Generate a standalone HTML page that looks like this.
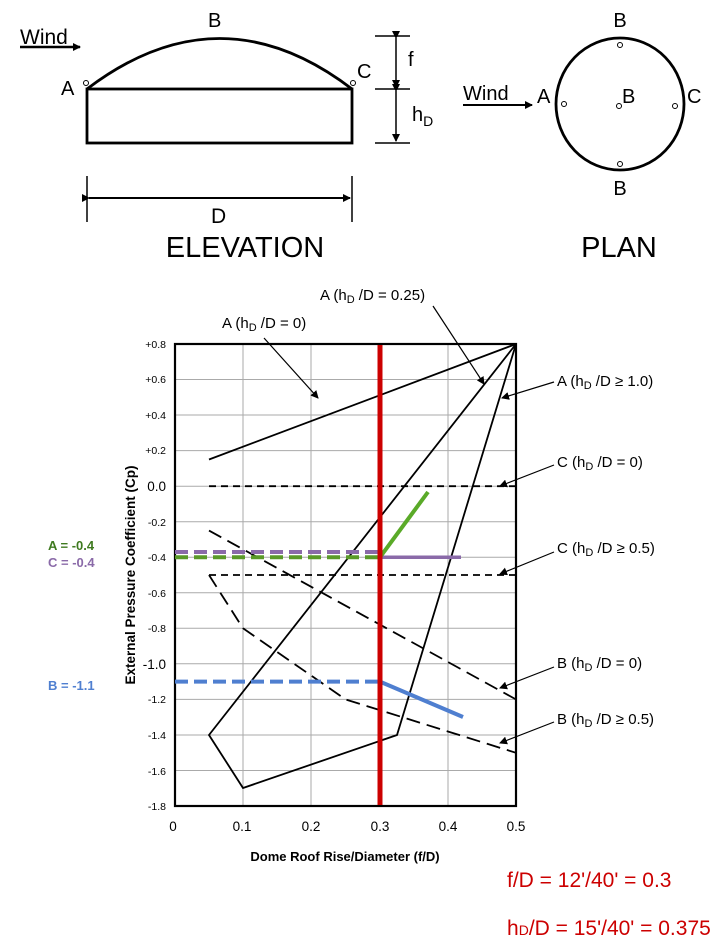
<!DOCTYPE html>
<html><head><meta charset="utf-8"><style>
body{margin:0;background:#fff;}
svg{display:block;font-family:"Liberation Sans",sans-serif;}
</style></head><body>
<svg width="720" height="941" viewBox="0 0 720 941" xmlns="http://www.w3.org/2000/svg">
<defs>
<marker id="ah" markerWidth="8" markerHeight="8" refX="7" refY="4" orient="auto" markerUnits="userSpaceOnUse"><path d="M0,0 L8,4 L0,8 z" fill="#000"/></marker>
</defs>
<!-- Elevation -->
<text x="20" y="44" font-size="21">Wind</text>
<line x1="20" y1="47" x2="80" y2="47" stroke="#000" stroke-width="2.5" marker-end="url(#ah)"/>
<path d="M87,89 Q220,-12 352,89" fill="none" stroke="#000" stroke-width="2.8"/>
<rect x="87" y="89" width="265" height="54" fill="none" stroke="#000" stroke-width="2.8"/>
<circle cx="86" cy="83" r="2.5" fill="none" stroke="#000"/>
<circle cx="353" cy="83" r="2.5" fill="none" stroke="#000"/>
<text x="61" y="95" font-size="20">A</text>
<text x="208" y="27" font-size="20">B</text>
<text x="357" y="78" font-size="20">C</text>
<line x1="375" y1="36" x2="410" y2="36" stroke="#000" stroke-width="1.5"/>
<line x1="375" y1="89" x2="410" y2="89" stroke="#000" stroke-width="1.5"/>
<line x1="375" y1="143" x2="410" y2="143" stroke="#000" stroke-width="1.5"/>
<line x1="396" y1="38" x2="396" y2="87" stroke="#000" stroke-width="1.5" marker-start="url(#ah)" marker-end="url(#ah)"/>
<line x1="396" y1="91" x2="396" y2="141" stroke="#000" stroke-width="1.5" marker-start="url(#ah)" marker-end="url(#ah)"/>
<text x="408" y="66" font-size="20">f</text>
<text x="412" y="121" font-size="20">h<tspan font-size="14" dy="5">D</tspan></text>
<line x1="87" y1="176" x2="87" y2="222" stroke="#000" stroke-width="1.5"/>
<line x1="352" y1="176" x2="352" y2="222" stroke="#000" stroke-width="1.5"/>
<line x1="89" y1="198" x2="350" y2="198" stroke="#000" stroke-width="2" marker-start="url(#ah)" marker-end="url(#ah)"/>
<text x="211" y="223" font-size="21">D</text>
<text x="245" y="257" font-size="29" text-anchor="middle">ELEVATION</text>
<!-- Plan -->
<ellipse cx="620" cy="104" rx="64" ry="66" fill="none" stroke="#000" stroke-width="2.8"/>
<text x="620" y="27" font-size="20" text-anchor="middle">B</text>
<text x="620" y="195" font-size="20" text-anchor="middle">B</text>
<text x="537" y="103" font-size="20">A</text>
<text x="622" y="103" font-size="20">B</text>
<text x="687" y="103" font-size="20">C</text>
<circle cx="620" cy="45" r="2.5" fill="none" stroke="#000"/>
<circle cx="620" cy="164" r="2.5" fill="none" stroke="#000"/>
<circle cx="564" cy="104" r="2.5" fill="none" stroke="#000"/>
<circle cx="619" cy="106" r="2.5" fill="none" stroke="#000"/>
<circle cx="675" cy="106" r="2.5" fill="none" stroke="#000"/>
<text x="463" y="100" font-size="20">Wind</text>
<line x1="463" y1="105" x2="532" y2="105" stroke="#000" stroke-width="2" marker-end="url(#ah)"/>
<text x="619" y="257" font-size="29" text-anchor="middle">PLAN</text>

<!-- Chart grid -->
<g stroke="#aaa" stroke-width="1">
<line x1="243" y1="344" x2="243" y2="806"/><line x1="311" y1="344" x2="311" y2="806"/><line x1="448" y1="344" x2="448" y2="806"/>
<line x1="175" y1="379.5" x2="516" y2="379.5"/><line x1="175" y1="415" x2="516" y2="415"/><line x1="175" y1="450.6" x2="516" y2="450.6"/><line x1="175" y1="486.2" x2="516" y2="486.2"/><line x1="175" y1="521.7" x2="516" y2="521.7"/><line x1="175" y1="557.2" x2="516" y2="557.2"/><line x1="175" y1="592.8" x2="516" y2="592.8"/><line x1="175" y1="628.3" x2="516" y2="628.3"/><line x1="175" y1="663.8" x2="516" y2="663.8"/><line x1="175" y1="699.4" x2="516" y2="699.4"/><line x1="175" y1="735" x2="516" y2="735"/><line x1="175" y1="770.5" x2="516" y2="770.5"/>
</g>
<rect x="175" y="344" width="341" height="462" fill="none" stroke="#000" stroke-width="2.2"/>
<!-- tick labels -->
<g font-size="10.5" text-anchor="end">
<text x="166" y="348">+0.8</text><text x="166" y="383">+0.6</text><text x="166" y="419">+0.4</text><text x="166" y="454">+0.2</text>
<text x="166" y="491" font-size="13.5">0.0</text>
<text x="166" y="526">-0.2</text><text x="166" y="561">-0.4</text><text x="166" y="597">-0.6</text><text x="166" y="632">-0.8</text>
<text x="166" y="669" font-size="13.5">-1.0</text>
<text x="166" y="703">-1.2</text><text x="166" y="739">-1.4</text><text x="166" y="775">-1.6</text><text x="166" y="810">-1.8</text>
</g>
<g font-size="13.5" text-anchor="middle">
<text x="173" y="831">0</text><text x="242" y="831">0.1</text><text x="311" y="831">0.2</text><text x="380" y="831">0.3</text><text x="448" y="831">0.4</text><text x="516" y="831">0.5</text>
</g>
<text x="345" y="861" font-size="13" font-weight="bold" text-anchor="middle">Dome Roof Rise/Diameter (f/D)</text>
<text transform="translate(135,575) rotate(-90)" font-size="13.5" font-weight="bold" text-anchor="middle">External Pressure Coefficient (Cp)</text>

<!-- series -->
<g fill="none" stroke="#000" stroke-width="1.8">
<line x1="209" y1="459.5" x2="516" y2="344"/>
<polyline points="516,344 209,735 243,788 397,735 516,344"/>
</g>
<g fill="none" stroke="#000" stroke-width="1.8" stroke-dasharray="7,5">
<line x1="209" y1="486.2" x2="516" y2="486.2"/>
<line x1="209" y1="575" x2="516" y2="575"/>
</g>
<g fill="none" stroke="#000" stroke-width="1.8" stroke-dasharray="14,7">
<line x1="209" y1="530.6" x2="516" y2="699.4"/>
<polyline points="209,575 243,628.3 345.5,699.4 516,752.8"/>
</g>
<!-- arrows -->
<g stroke="#000" stroke-width="1.2" marker-end="url(#ah)">
<line x1="264" y1="338" x2="318" y2="398"/>
<line x1="433" y1="306" x2="484" y2="384"/>
<line x1="554" y1="382" x2="502" y2="398"/>
<line x1="554" y1="465" x2="500" y2="486"/>
<line x1="554" y1="552" x2="500" y2="574"/>
<line x1="554" y1="667" x2="500" y2="688"/>
<line x1="554" y1="722" x2="500" y2="743"/>
</g>
<g font-size="15">
<text x="320" y="300">A (h<tspan font-size="11" dy="3">D</tspan><tspan dy="-3"> /D = 0.25)</tspan></text>
<text x="222" y="328">A (h<tspan font-size="11" dy="3">D</tspan><tspan dy="-3"> /D = 0)</tspan></text>
<text x="557" y="386">A (h<tspan font-size="11" dy="3">D</tspan><tspan dy="-3"> /D ≥ 1.0)</tspan></text>
<text x="557" y="467">C (h<tspan font-size="11" dy="3">D</tspan><tspan dy="-3"> /D = 0)</tspan></text>
<text x="557" y="553">C (h<tspan font-size="11" dy="3">D</tspan><tspan dy="-3"> /D ≥ 0.5)</tspan></text>
<text x="557" y="668">B (h<tspan font-size="11" dy="3">D</tspan><tspan dy="-3"> /D = 0)</tspan></text>
<text x="557" y="724">B (h<tspan font-size="11" dy="3">D</tspan><tspan dy="-3"> /D ≥ 0.5)</tspan></text>
</g>
<!-- colored -->
<line x1="175" y1="557.2" x2="380" y2="557.2" stroke="#5a9a28" stroke-width="4" stroke-dasharray="13,6"/>
<line x1="175" y1="552" x2="380" y2="552" stroke="#8a6aa8" stroke-width="4" stroke-dasharray="13,6"/>
<line x1="380" y1="557.2" x2="461" y2="557.2" stroke="#8a6aa8" stroke-width="3.5"/>
<line x1="380" y1="557.2" x2="428" y2="492" stroke="#5aaa28" stroke-width="4"/>
<line x1="175" y1="681.6" x2="380" y2="681.6" stroke="#4f7fd0" stroke-width="4" stroke-dasharray="13,6"/>
<line x1="380" y1="681.6" x2="463" y2="717" stroke="#4f7fd0" stroke-width="4"/>
<line x1="380" y1="345" x2="380" y2="805" stroke="#cc0000" stroke-width="5"/>
<g font-size="13" font-weight="bold">
<text x="48" y="550" fill="#3f7a20">A = -0.4</text>
<text x="48" y="567" fill="#8a6aa8">C = -0.4</text>
<text x="48" y="690" fill="#4f7fd0">B = -1.1</text>
</g>
<text x="507" y="887" font-size="21" fill="#cc0000">f/D = 12'/40' = 0.3</text>
<text x="507" y="935" font-size="21" fill="#cc0000">h<tspan font-size="14">D</tspan>/D = 15'/40' = 0.375</text>
</svg>
</body></html>
